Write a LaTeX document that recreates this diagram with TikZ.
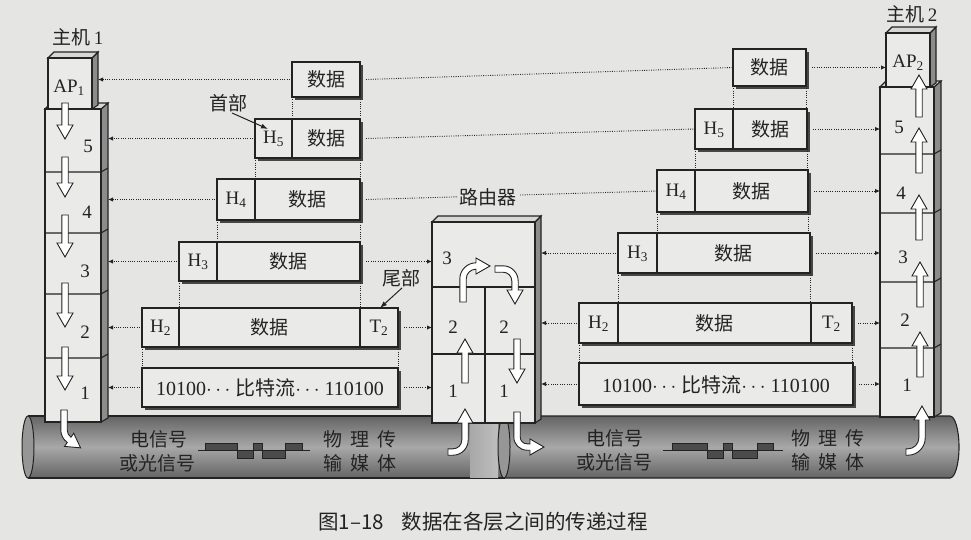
\documentclass[tikz,border=0pt]{standalone}
\usepackage{fontspec}
\setmainfont{Liberation Serif}
\newfontfamily\cjk{Noto Sans CJK SC}
\usetikzlibrary{arrows.meta,calc}
\definecolor{paper}{RGB}{229,229,227}
\definecolor{boxfill}{RGB}{234,234,232}
\definecolor{ink}{RGB}{35,35,35}
\definecolor{sidegray}{RGB}{140,140,140}
\definecolor{topgray}{RGB}{215,215,213}
\definecolor{shadowgray}{RGB}{70,70,70}
\definecolor{cyldark}{RGB}{100,100,100}
\definecolor{cyllight}{RGB}{168,168,168}
\definecolor{cylend}{RGB}{150,150,150}
\definecolor{cylband}{RGB}{190,190,190}
\definecolor{wavegray}{RGB}{75,75,75}
\newcommand\arrW{3.2}
\newcommand\arrHW{8}
\newcommand\arrH{14}
\newcommand\harrdown[3]{\draw[harr] ({#1-\arrW},#2) -- ({#1-\arrW},{#3-\arrH}) -- ({#1-\arrHW},{#3-\arrH}) -- (#1,#3) -- ({#1+\arrHW},{#3-\arrH}) -- ({#1+\arrW},{#3-\arrH}) -- ({#1+\arrW},#2) -- cycle;}
\newcommand\harrup[3]{\draw[harr] ({#1-\arrW},#2) -- ({#1-\arrW},{#3+\arrH}) -- ({#1-\arrHW},{#3+\arrH}) -- (#1,#3) -- ({#1+\arrHW},{#3+\arrH}) -- ({#1+\arrW},{#3+\arrH}) -- ({#1+\arrW},#2) -- cycle;}
% bent hollow arrow: #1 transform, #2 L, #3 R, #4 turn angle, #5 L2
\newcommand\bentarr[5]{%
 \begin{scope}[#1]
 \draw[harr] (-\arrW,0) -- (-\arrW,#2)
   arc[start angle=180, end angle={180-#4}, radius={#3+\arrW}]
   -- ++({#5*sin(#4)},{#5*cos(#4)})
   -- ++({-(\arrHW-\arrW)*cos(#4)},{(\arrHW-\arrW)*sin(#4)})
   -- ++({\arrHW*cos(#4)+\arrH*sin(#4)},{-\arrHW*sin(#4)+\arrH*cos(#4)})
   -- ++({-\arrH*sin(#4)+\arrHW*cos(#4)},{-\arrH*cos(#4)-\arrHW*sin(#4)})
   -- ++({-(\arrHW-\arrW)*cos(#4)},{(\arrHW-\arrW)*sin(#4)})
   -- ++({-#5*sin(#4)},{-#5*cos(#4)})
   arc[start angle={180-#4}, end angle=180, radius={#3-\arrW}]
   -- (\arrW,0) -- cycle;
 \end{scope}}
\newcommand\pframe[5]{%
 \fill[shd] ({#2+3},{#4+3}) rectangle ({#3+3},{#5+3});
 \node[frm, minimum width={#3-#2}, minimum height={#5-#4}] (#1) at ({(#2+#3)/2},{(#4+#5)/2}) {};}
\tikzset{
 inkline/.style={draw=ink, line width=1.1pt},
 frm/.style={draw=ink, line width=1.2pt, fill=boxfill, inner sep=0pt, outer sep=0pt},
 shd/.style={fill=shadowgray},
 divl/.style={draw=ink, line width=1.2pt},
 harr/.style={draw=ink, fill=white, line width=0.9pt, line join=miter},
 dots/.style={draw=ink, line width=0.9pt, dash pattern=on 0.9pt off 1.4pt},
 dotarr/.style={dots, -{Latex[length=5pt,width=4.5pt]}},
 ptr/.style={draw=ink, line width=1pt, -{Latex[length=7pt,width=5pt]}},
 lbl/.style={font=\fontsize{19}{22}\selectfont, text=ink, inner sep=0pt},
 clbl/.style={font=\cjk\fontsize{19}{22}\selectfont, text=ink, inner sep=0pt},
 body/.style={fill=boxfill, draw=ink, line width=1.1pt},
 side/.style={fill=sidegray, draw=ink, line width=1.1pt},
 topf/.style={fill=topgray, draw=ink, line width=1.1pt},
}
\begin{document}
\begin{tikzpicture}[x=1pt,y=-1pt]
\useasboundingbox (0,0) rectangle (971,540);
\fill[paper] (0,0) rectangle (971,540);

% ---------- cylinders ----------
\shade[top color=cyldark, bottom color=cyldark, middle color=cyllight] (28,416) rectangle (505,478);
\draw[inkline] (28,416) -- (505,416) (28,478) -- (505,478);
\filldraw[fill=cylend, draw=ink, line width=1pt] (28,447) ellipse [x radius=6, y radius=31];
\shade[left color=cyllight, right color=cylband] (470,423) rectangle (498,477);
\shade[top color=cyldark, bottom color=cyldark, middle color=cyllight] (504,416) -- (950,416) arc[start angle=-90, end angle=90, x radius=9, y radius=31] -- (504,478) -- cycle;
\draw[inkline] (504,416) -- (950,416) arc[start angle=-90, end angle=90, x radius=9, y radius=31] -- (504,478);
\filldraw[fill=cylend, draw=ink, line width=1pt] (504,447) ellipse [x radius=6, y radius=31];

% signals
\begin{scope}[fill=wavegray, draw=ink, line width=0.8pt]
\filldraw (205,443) rectangle (237,450) (237,450) rectangle (253,458) (253,443) rectangle (262,450) (262,450) rectangle (285,458) (285,443) rectangle (302,450);
\draw (198,450) -- (310,450);
\filldraw (672,443) rectangle (707,450) (707,450) rectangle (723,458) (723,443) rectangle (732,450) (732,450) rectangle (757,458) (757,443) rectangle (773,450);
\draw (663,450) -- (783,450);
\end{scope}
\node[clbl] (sigL1) at (159,439) {电信号};
\node[clbl] (sigL2) at (157,463) {或光信号};
\node[clbl] (medL1) at (360,439) {物\hspace{8pt}理\hspace{8pt}传};
\node[clbl] (medL2) at (360,463) {输\hspace{8pt}媒\hspace{8pt}体};
\node[clbl] (sigR1) at (615,438) {电信号};
\node[clbl] (sigR2) at (614,462) {或光信号};
\node[clbl] (medR1) at (828,438) {物\hspace{8pt}理\hspace{8pt}传};
\node[clbl] (medR2) at (828,462) {输\hspace{8pt}媒\hspace{8pt}体};

% ---------- host 1 ----------
\filldraw[side] (101,109) -- (108,103) -- (108,418) -- (101,422) -- cycle;
\filldraw[topf] (45,109) -- (51,103) -- (108,103) -- (101,109) -- cycle;
\filldraw[body] (45,109) rectangle (101,422);
\foreach \yy in {172,233,294,358} \draw[inkline] (45,\yy) -- (101,\yy) -- (108,\yy-4);
\filldraw[side] (92,58) -- (98,52) -- (98,105) -- (92,109) -- cycle;
\filldraw[topf] (48,58) -- (54,52) -- (98,52) -- (92,58) -- cycle;
\filldraw[body] (48,58) rectangle (92,109);
\node[lbl] (ap1) at (69,88) {AP\textsubscript{1}};
\node[lbl] (h1n5) at (88,146) {5};
\node[lbl] (h1n4) at (87,212) {4};
\node[lbl] (h1n3) at (85,271) {3};
\node[lbl] (h1n2) at (85,332) {2};
\node[lbl] (h1n1) at (85,393) {1};
\node[lbl] (host1) at (78,37) {{\cjk 主机}\,1};

% ---------- host 2 ----------
\filldraw[side] (934,87) -- (941,81) -- (941,413) -- (934,417) -- cycle;
\filldraw[topf] (880,87) -- (886,81) -- (941,81) -- (934,87) -- cycle;
\filldraw[body] (880,87) rectangle (934,417);
\foreach \yy in {154,213,282,348} \draw[inkline] (880,\yy) -- (934,\yy) -- (941,\yy-4);
\filldraw[side] (930,33) -- (936,27) -- (936,83) -- (930,87) -- cycle;
\filldraw[topf] (886,33) -- (892,27) -- (936,27) -- (930,33) -- cycle;
\filldraw[body] (886,33) rectangle (930,87);
\node[lbl] (ap2) at (908,63) {AP\textsubscript{2}};
\node[lbl] (h2n5) at (899,127) {5};
\node[lbl] (h2n4) at (901,193) {4};
\node[lbl] (h2n3) at (903,257) {3};
\node[lbl] (h2n2) at (905,320) {2};
\node[lbl] (h2n1) at (907,385) {1};
\node[lbl] (host2) at (912,14) {{\cjk 主机}\,2};

% ---------- router ----------
\filldraw[side] (535,222) -- (541,216) -- (541,419) -- (535,423) -- cycle;
\filldraw[topf] (432,222) -- (438,216) -- (541,216) -- (535,222) -- cycle;
\filldraw[body] (432,222) rectangle (535,423);
\draw[inkline] (432,287) -- (535,287) (432,354) -- (535,354) (485,287) -- (485,423);
\node[lbl] (r3) at (447,258) {3};
\node[lbl] (r2a) at (453,327) {2};
\node[lbl] (r2b) at (504,327) {2};
\node[lbl] (r1a) at (453,391) {1};
\node[lbl] (r1b) at (504,391) {1};

% target coordinates
\coordinate (h1A) at (98,79.5);
\coordinate (h15) at (108,138.5);
\coordinate (h14) at (108,199.5);
\coordinate (h13) at (108,261.5);
\coordinate (h12) at (108,327.5);
\coordinate (h11) at (108,387.5);
\coordinate (rL3) at (432,261.5);
\coordinate (rL2) at (432,327.5);
\coordinate (rL1) at (432,387.5);
\coordinate (rR3) at (541,253);
\coordinate (rR2) at (541,323);
\coordinate (rR1) at (541,384);
\coordinate (h2A) at (886,67.5);
\coordinate (h25) at (880,129);
\coordinate (h24) at (880,191);
\coordinate (h23) at (880,253);
\coordinate (h22) at (880,323);
\coordinate (h21) at (880,384);

% ---------- frames ----------
\pframe{LA}{292}{360}{62}{97}
\pframe{L5}{255}{360}{119}{158}
\pframe{L4}{217}{360}{179}{220}
\pframe{L3}{179}{360}{242}{281}
\pframe{L2}{142}{398}{308}{347}
\pframe{L1}{142}{398}{368}{407}
\pframe{RA}{733}{806}{49}{86}
\pframe{R5}{695}{807}{109}{149}
\pframe{R4}{657}{808}{170}{212}
\pframe{R3}{618}{810}{233}{273}
\pframe{R2}{579}{852}{303}{343}
\pframe{R1}{579}{853}{363}{405}
\draw[divl] (292,119) -- (292,158) (255,179) -- (255,220) (217,242) -- (217,281)
  (179,308) -- (179,347) (360,308) -- (360,347);
\draw[divl] (733,109) -- (733,149) (695,170) -- (695,212) (657,233) -- (657,273)
  (618,303) -- (618,343) (811,303) -- (811,343);

\node[clbl] (LAd) at (326,79.5) {数据};
\node[lbl] (L5h) at (273.5,139) {H\textsubscript{5}};
\node[clbl] (L5d) at (326,138.5) {数据};
\node[lbl] (L4h) at (236,200) {H\textsubscript{4}};
\node[clbl] (L4d) at (307.5,199.5) {数据};
\node[lbl] (L3h) at (198,262) {H\textsubscript{3}};
\node[clbl] (L3d) at (288.5,261.5) {数据};
\node[lbl] (L2h) at (160.5,328) {H\textsubscript{2}};
\node[clbl] (L2d) at (269.5,327.5) {数据};
\node[lbl] (L2t) at (379,328) {T\textsubscript{2}};
\node[lbl, font=\fontsize{20}{22}\selectfont] (L1b) at (270,388) {10100$\cdots$ {\cjk 比特流}$\cdots$ 110100};
\node[clbl] (RAd) at (769.5,67.5) {数据};
\node[lbl] (R5h) at (714,129.5) {H\textsubscript{5}};
\node[clbl] (R5d) at (770,129) {数据};
\node[lbl] (R4h) at (676,191.5) {H\textsubscript{4}};
\node[clbl] (R4d) at (751.5,191) {数据};
\node[lbl] (R3h) at (637.5,253.5) {H\textsubscript{3}};
\node[clbl] (R3d) at (733.5,253) {数据};
\node[lbl] (R2h) at (598.5,323.5) {H\textsubscript{2}};
\node[clbl] (R2d) at (714.5,323) {数据};
\node[lbl] (R2t) at (831.5,323.5) {T\textsubscript{2}};
\node[lbl, font=\fontsize{20}{22}\selectfont] (R1b) at (716,384.5) {10100$\cdots$ {\cjk 比特流}$\cdots$ 110100};

% ---------- dotted connectors ----------
\draw[dotarr] (LA.west) -- (h1A);
\draw[dotarr] (L5.west) -- (h15);
\draw[dotarr] (L4.west) -- (h14);
\draw[dotarr] (L3.west) -- (h13);
\draw[dotarr] (L2.west) -- (h12);
\draw[dotarr] (L1.west) -- (h11);
\draw[dots] ($(LA.east)+(6,0)$) -- (RA.west);
\draw[dots] ($(L5.east)+(6,0)$) -- (R5.west);
\draw[dots] ($(L4.east)+(6,0)$) -- (R4.west);
\draw[dotarr] ($(L3.east)+(6,0)$) -- (rL3);
\draw[dotarr] ($(L2.east)+(6,0)$) -- (rL2);
\draw[dotarr] ($(L1.east)+(6,0)$) -- (rL1);
\draw[dotarr] (R3.west) -- (rR3);
\draw[dotarr] (R2.west) -- (rR2);
\draw[dotarr] (R1.west) -- (rR1);
\draw[dotarr] ($(RA.east)+(6,0)$) -- (h2A);
\draw[dotarr] ($(R5.east)+(6,0)$) -- (h25);
\draw[dotarr] ($(R4.east)+(6,0)$) -- (h24);
\draw[dotarr] ($(R3.east)+(6,0)$) -- (h23);
\draw[dotarr] ($(R2.east)+(6,0)$) -- (h22);
\draw[dotarr] ($(R1.east)+(6,0)$) -- (h21);
% vertical dotted
\draw[dots] (LA.south west) -- (LA.south west |- L5.north) (LA.south east) -- (LA.south east |- L5.north);
\draw[dots] (L5.south west) -- (L5.south west |- L4.north) (L5.south east) -- (L5.south east |- L4.north);
\draw[dots] (L4.south west) -- (L4.south west |- L3.north) (L4.south east) -- (L4.south east |- L3.north);
\draw[dots] (L3.south west) -- (L3.south west |- L2.north) (L3.south east) -- (L3.south east |- L2.north);
\draw[dots] (L2.south west) -- (L2.south west |- L1.north) (L2.south east) -- (L2.south east |- L1.north);
\draw[dots] (RA.south west) -- (RA.south west |- R5.north) (RA.south east) -- (RA.south east |- R5.north);
\draw[dots] (R5.south west) -- (R5.south west |- R4.north) (R5.south east) -- (R5.south east |- R4.north);
\draw[dots] (R4.south west) -- (R4.south west |- R3.north) (R4.south east) -- (R4.south east |- R3.north);
\draw[dots] (R3.south west) -- (R3.south west |- R2.north) (R3.south east) -- (R3.south east |- R2.north);
\draw[dots] (R2.south west) -- (R2.south west |- R1.north) (R2.south east) -- (R2.south east |- R1.north);

\node[clbl, fill=paper, inner sep=2pt] (rlbl) at (488,197) {路由器};

% labels with pointers
\node[clbl] (shoubu) at (228,103) {首部};
\draw[ptr] ($(shoubu.south)+(4,1)$) -- ($(L5.north west)+(13,10)$);
\node[clbl] (weibu) at (401,278) {尾部};
\draw[ptr] ($(weibu.south)+(1,1)$) -- ($(L2.north east)+(-18,0)$);

% ---------- hollow arrows ----------
\harrdown{65}{103}{139}
\harrdown{65}{157}{197}
\harrdown{65}{215}{257}
\harrdown{65}{283}{327}
\harrdown{65}{347}{390}
\bentarr{shift={(64,410)}}{20}{12}{55}{0}
\harrup{465}{383}{339}
\harrdown{517}{339}{383}
\bentarr{shift={(463,302)},yscale=-1}{23}{13}{90}{0}
\bentarr{shift={(495,269)},yscale=-1,rotate=90}{8}{12}{90}{9}
\bentarr{shift={(448,452)},rotate=90}{5}{12}{90}{17}
\bentarr{shift={(517,412)}}{25}{10}{90}{3}
\harrup{919}{117}{75}
\harrup{919}{173}{128}
\harrup{919}{240}{195}
\harrup{920}{307}{262}
\harrup{920}{377}{332}
\bentarr{shift={(906,452)},rotate=90}{2}{14}{90}{18}

% caption
\node[font=\cjk\fontsize{20.5}{24}\selectfont, text=ink, anchor=west, inner sep=0pt] (cap) at (318,522) {图1–18\hspace{18pt}数据在各层之间的传递过程};
\end{tikzpicture}
\end{document}
